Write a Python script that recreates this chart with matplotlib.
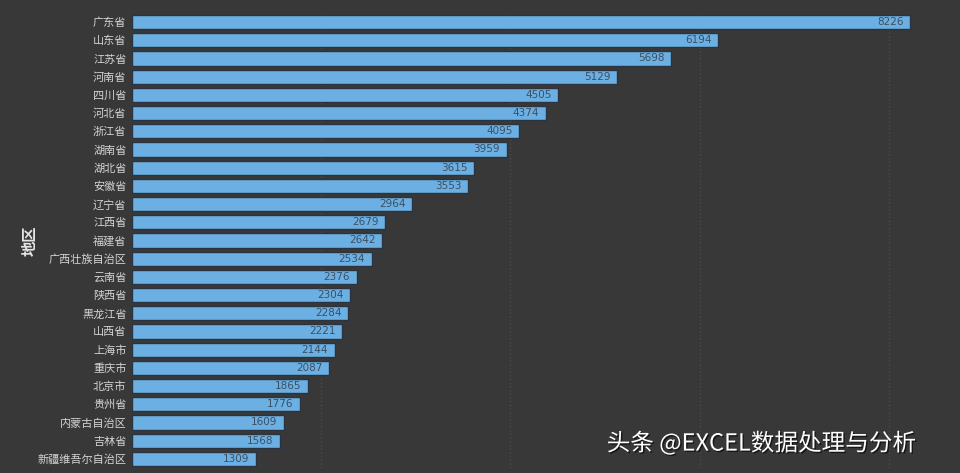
import matplotlib.pyplot as plt
import matplotlib.patheffects as pe

plt.rcParams['font.family'] = ['Noto Sans CJK SC', 'DejaVu Sans']

regions = ['广东省', '山东省', '江苏省', '河南省', '四川省', '河北省', '浙江省', '湖南省',
           '湖北省', '安徽省', '辽宁省', '江西省', '福建省', '广西壮族自治区', '云南省',
           '陕西省', '黑龙江省', '山西省', '上海市', '重庆市', '北京市', '贵州省',
           '内蒙古自治区', '吉林省', '新疆维吾尔自治区']
values = [8226, 6194, 5698, 5129, 4505, 4374, 4095, 3959, 3615, 3553, 2964, 2679, 2642,
          2534, 2376, 2304, 2284, 2221, 2144, 2087, 1865, 1776, 1609, 1568, 1309]
grid_ticks = [2000, 4000, 6000, 8000]

bg = '#383838'
fig = plt.figure(figsize=(9.6, 4.73), dpi=100, facecolor=bg)
ax = fig.add_axes([0.1375, 0.0106, 0.8425, 0.962], facecolor=bg)

ypos = list(range(len(regions)))
ax.barh(ypos, values, height=0.78, color='#6cb0e3', edgecolor='#2a3440', linewidth=1, zorder=2)
for y, v in zip(ypos, values):
    ax.text(v - 70, y, str(v), ha='right', va='center', fontsize=7.5,
            color='#3c4f63', family=['DejaVu Sans'], zorder=3)

ax.set_yticks(ypos)
ax.set_yticklabels(regions, fontsize=8, color='#d4d4d4')
ax.set_ylim(len(regions) - 0.5, -0.5)
ax.set_xlim(0, 8550)
ax.set_xticks(grid_ticks)
ax.set_xticklabels([])
ax.tick_params(length=0, pad=4)
ax.grid(axis='x', color='#4a4a4a', linestyle=':', linewidth=1, zorder=0)
for s in ax.spines.values():
    s.set_visible(False)

fig.text(0.031, 0.49, '地区', rotation=90, ha='center', va='center', fontsize=11,
         color='#e6e6e6', fontweight='bold')

fig.text(0.632, 0.063, '头条 @EXCEL数据处理与分析', fontsize=17, color='white',
         ha='left', va='center',
         path_effects=[pe.withSimplePatchShadow(offset=(1, -1), shadow_rgbFace='black', alpha=0.6)])

fig.savefig('out.png', dpi=100, facecolor=bg)
